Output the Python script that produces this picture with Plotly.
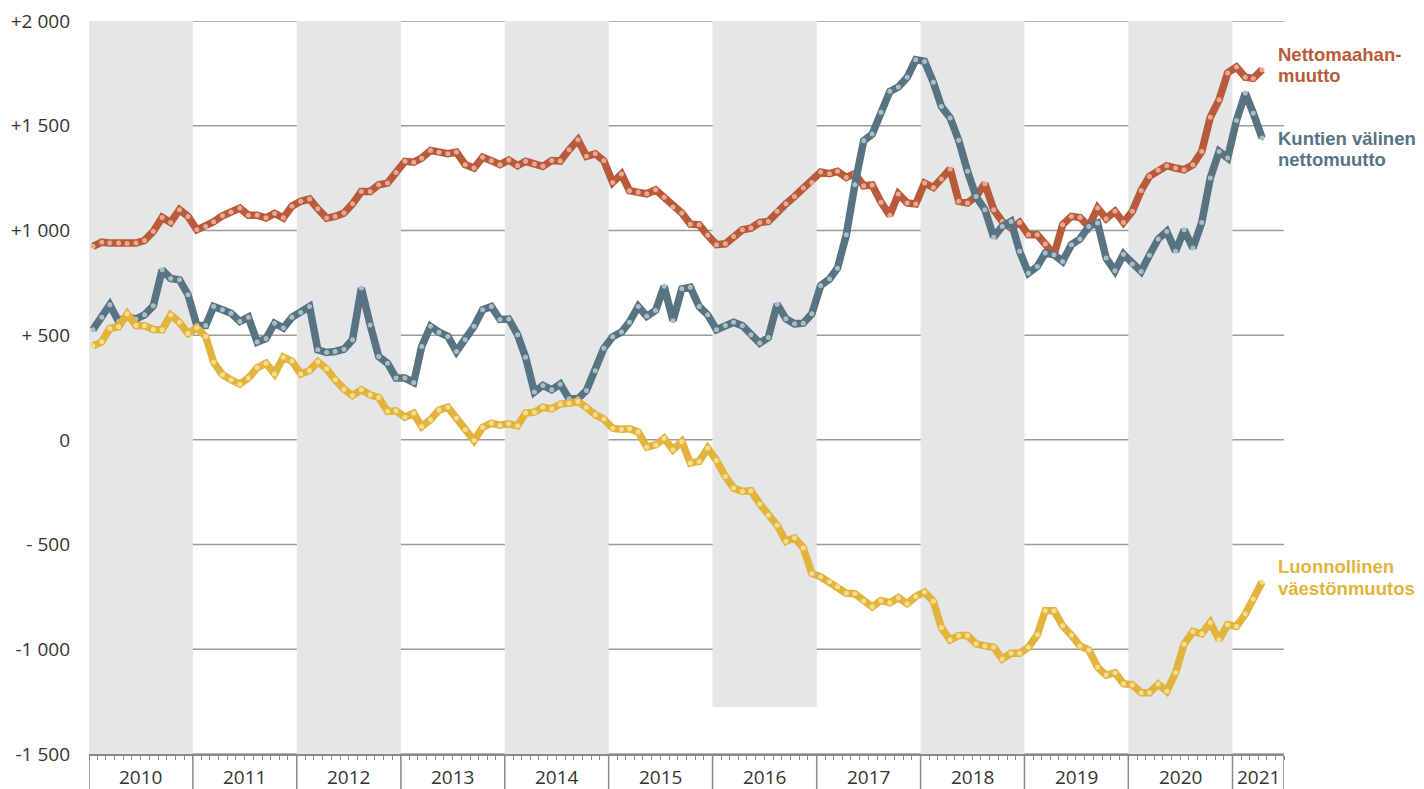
import pandas as pd
import plotly.graph_objects as go

# monthly values, Jan 2010 - Apr 2021 (12-month moving figures)
months = pd.date_range("2010-01-01", periods=136, freq="MS") + pd.Timedelta(days=14)

nettomaahanmuutto = [
    924, 944, 940, 940, 938, 940, 952, 995, 1062, 1038, 1099, 1067,
    1003, 1019, 1041, 1070, 1088, 1107, 1073, 1073, 1060, 1081, 1060, 1116,
    1139, 1150, 1103, 1059, 1067, 1083, 1127, 1186, 1186, 1218, 1226, 1277,
    1330, 1326, 1345, 1382, 1373, 1366, 1374, 1314, 1298, 1349, 1333, 1314,
    1336, 1309, 1330, 1317, 1306, 1334, 1331, 1385, 1433, 1354, 1366, 1333,
    1229, 1269, 1190, 1182, 1175, 1194, 1159, 1112, 1083, 1030, 1027, 977,
    932, 936, 971, 1003, 1011, 1038, 1043, 1091, 1127, 1162, 1202, 1229,
    1279, 1271, 1282, 1253, 1271, 1213, 1217, 1135, 1072, 1174, 1131, 1126,
    1226, 1205, 1245, 1293, 1139, 1131, 1162, 1223, 1099, 1043, 1011, 1038,
    979, 979, 935, 884, 1027, 1067, 1062, 1019, 1107, 1056, 1091, 1038,
    1091, 1191, 1258, 1287, 1309, 1298, 1290, 1314, 1377, 1540, 1624, 1752,
    1780, 1731, 1726, 1767,
]

kuntien_valinen = [
    526, 586, 645, 565, 589, 577, 597, 640, 812, 771, 764, 693,
    546, 546, 637, 621, 605, 565, 586, 467, 484, 557, 534, 585,
    608, 637, 430, 417, 422, 433, 478, 725, 549, 398, 366, 295,
    295, 274, 446, 542, 514, 494, 422, 478, 542, 621, 637, 575,
    577, 502, 395, 228, 260, 239, 266, 196, 196, 236, 330, 437,
    492, 515, 562, 637, 590, 618, 733, 569, 721, 729, 637, 597,
    526, 546, 561, 545, 502, 462, 489, 648, 578, 554, 557, 602,
    737, 768, 820, 979, 1218, 1428, 1460, 1564, 1664, 1685, 1731, 1815,
    1807, 1707, 1592, 1537, 1430, 1282, 1162, 1099, 968, 1019, 1043, 900,
    796, 828, 892, 884, 852, 932, 959, 1019, 1035, 868, 807, 886,
    840, 804, 882, 959, 995, 900, 1003, 916, 1038, 1250, 1377, 1346,
    1525, 1656, 1560, 1441,
]

luonnollinen = [
    449, 468, 532, 540, 602, 546, 545, 527, 526, 596, 561, 508,
    535, 494, 370, 311, 287, 266, 295, 344, 366, 315, 395, 376,
    315, 331, 373, 339, 287, 242, 212, 239, 215, 202, 136, 139,
    108, 127, 64, 96, 143, 156, 104, 48, -3, 59, 80, 70,
    77, 67, 128, 132, 156, 148, 171, 175, 183, 155, 120, 99,
    56, 51, 53, 37, -35, -24, 8, -47, -8, -111, -103, -40,
    -98, -175, -230, -246, -243, -306, -360, -408, -484, -468, -516, -638,
    -654, -678, -701, -733, -735, -770, -797, -767, -778, -754, -782, -748,
    -727, -771, -896, -955, -934, -934, -974, -984, -990, -1046, -1019, -1019,
    -990, -931, -816, -816, -888, -933, -984, -1003, -1086, -1123, -1112, -1164,
    -1170, -1207, -1207, -1166, -1200, -1112, -976, -915, -926, -872, -955, -883,
    -891, -832, -760, -679,
]

years = list(range(2010, 2022))
shaded_years = [2010, 2012, 2014, 2016, 2018, 2020]
y_ticks = [2000, 1500, 1000, 500, 0, -500, -1000, -1500]
y_ticktext = ["+2 000", "+1 500", "+1 000", "+ 500", "0", "- 500", "-1 000", "-1 500"]

ORANGE, ORANGE_DOT = "#B95B3B", "#E6AA94"
BLUE, BLUE_DOT = "#587381", "#ABBEC7"
YELLOW, YELLOW_DOT = "#E2B43E", "#F5DC93"
SHADE = "#E5E6E8"
GRID = "#9B9B9B"
TEXT = "#333333"
LABEL_FONT = "Liberation Sans, Arial, sans-serif"

x_start = pd.Timestamp("2010-01-01")
x_end = pd.Timestamp("2021-07-01")

fig = go.Figure()

series = [
    ("Nettomaahanmuutto", nettomaahanmuutto, ORANGE, ORANGE_DOT),
    ("Kuntien välinen nettomuutto", kuntien_valinen, BLUE, BLUE_DOT),
    ("Luonnollinen väestönmuutos", luonnollinen, YELLOW, YELLOW_DOT),
]
for name, vals, col, dot in series:
    fig.add_trace(go.Scatter(
        x=months, y=vals, name=name, mode="lines+markers",
        line=dict(color=col, width=7.5),
        marker=dict(color=dot, size=5),
        hoverinfo="x+y+name",
    ))

shapes = []
# grey bands for every other year (2016 band stops short, as in the original)
for yr in shaded_years:
    shapes.append(dict(
        type="rect", xref="x", yref="y", layer="below",
        x0=pd.Timestamp(f"{yr}-01-01"), x1=min(pd.Timestamp(f"{yr + 1}-01-01"), x_end),
        y0=-1275 if yr == 2016 else -1500, y1=2000,
        fillcolor=SHADE, line=dict(width=0),
    ))
# horizontal grid
for v in y_ticks:
    shapes.append(dict(
        type="line", xref="paper", yref="y", layer="below",
        x0=0, x1=1, y0=v, y1=v, line=dict(color=GRID, width=1.5),
    ))
# year separators under the axis
for yr in years + [None]:
    xx = x_end if yr is None else pd.Timestamp(f"{yr}-01-01")
    shapes.append(dict(
        type="line", xref="x", yref="paper",
        x0=xx, x1=xx, y0=0, y1=-0.06, line=dict(color="#8A8A8A", width=1.5),
    ))

annotations = []
for yr in years:
    mid = pd.Timestamp(f"{yr}-04-01") if yr == 2021 else pd.Timestamp(f"{yr}-07-02")
    annotations.append(dict(
        x=mid, y=0, xref="x", yref="paper", text=str(yr), showarrow=False,
        yanchor="middle", yshift=-23, font=dict(family="Open Sans", size=19, color=TEXT),
    ))

labels = [
    ("Nettomaahan-", 1838, ORANGE),
    ("muutto", 1738, ORANGE),
    ("Kuntien välinen", 1439, BLUE),
    ("nettomuutto", 1339, BLUE),
    ("Luonnollinen", -607, YELLOW),
    ("väestönmuutos", -712, YELLOW),
]
for txt, yv, col in labels:
    annotations.append(dict(
        x=1, y=yv, xref="paper", yref="y", text=f"<b>{txt}</b>", showarrow=False,
        xanchor="left", yanchor="middle", xshift=-8,
        font=dict(family=LABEL_FONT, size=18.5, color=col),
    ))

# the page body has an 8 px margin, so the figure is offset by 8 px
fig.update_layout(
    width=1416, height=781,
    margin=dict(l=81, r=140, t=13, b=35),
    paper_bgcolor="white", plot_bgcolor="white",
    showlegend=False,
    shapes=shapes, annotations=annotations,
    xaxis=dict(
        type="date", range=[x_start, x_end], showgrid=False, zeroline=False,
        showline=True, linecolor="#8A8A8A", linewidth=1.5, automargin=False,
        ticks="outside", tick0="2010-01-01", dtick="M1", ticklen=4,
        tickcolor="#8A8A8A", tickwidth=1, showticklabels=False,
    ),
    yaxis=dict(
        range=[-1500, 2000], showgrid=False, zeroline=False, showline=False,
        automargin=False, tickvals=y_ticks, ticktext=y_ticktext, ticks="",
        ticklabelstandoff=18, ticklabeloverflow="allow",
        tickfont=dict(family="Open Sans", size=19, color=TEXT),
    ),
)

fig.write_html("out.html")
